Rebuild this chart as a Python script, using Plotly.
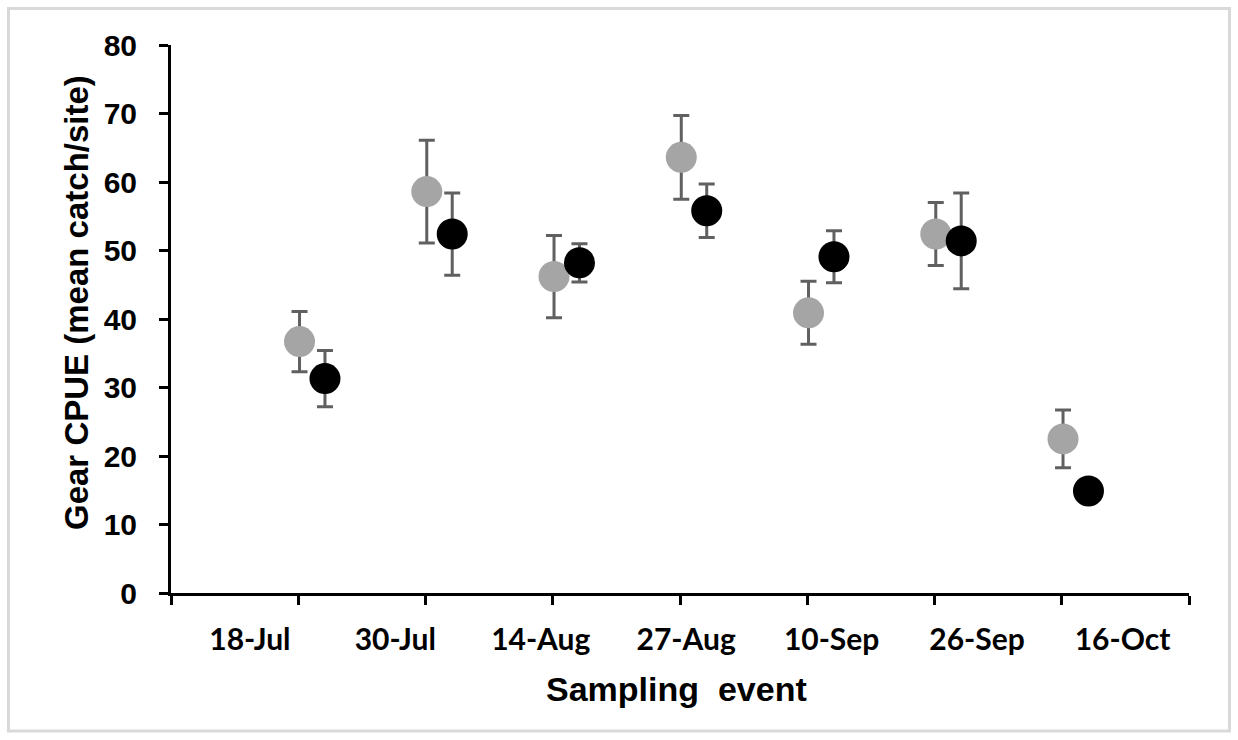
import plotly.graph_objects as go

# ---- data ----
events = ["18-Jul", "30-Jul", "14-Aug", "27-Aug", "10-Sep", "26-Sep", "16-Oct"]
gray_mean = [36.7, 58.6, 46.2, 63.6, 40.9, 52.4, 22.5]
gray_err = [4.4, 7.5, 6.0, 6.1, 4.6, 4.6, 4.2]
black_mean = [31.3, 52.4, 48.2, 55.8, 49.1, 51.4, 14.9]
black_err = [4.1, 6.0, 2.8, 3.9, 3.8, 7.0, 0.0]
y_ticks = [0, 10, 20, 30, 40, 50, 60, 70, 80]

# ---- layout geometry (pixels) ----
W, H = 1238, 740
L, R, T, B = 171, 49, 45, 147
pw, ph = W - L - R, H - T - B

def px_to_paper_x(px):
    return (px - L) / pw

def px_to_paper_y(py):
    return (H - B - py) / ph

n = len(events)
x_gray = [i + 1.01 for i in range(n)]
x_black = [i + 1.21 for i in range(n)]
label_pos = [0.62 + i * 8 / 7 for i in range(n)]

err_color = "#606060"

fig = go.Figure()
fig.add_trace(go.Scatter(
    x=x_gray, y=gray_mean, mode="markers",
    marker=dict(size=31, color="#a5a5a5", line=dict(width=0)),
    error_y=dict(type="data", array=gray_err, visible=True,
                 color=err_color, thickness=3, width=8),
    showlegend=False,
))
fig.add_trace(go.Scatter(
    x=x_black, y=black_mean, mode="markers",
    marker=dict(size=31, color="#000000", line=dict(width=0)),
    error_y=dict(type="data", array=black_err, visible=True,
                 color=err_color, thickness=3, width=8),
    showlegend=False,
))

fig.update_layout(
    width=W, height=H,
    margin=dict(l=L, r=R, t=T, b=B, pad=0),
    paper_bgcolor="white", plot_bgcolor="white",
    xaxis=dict(
        range=[0, 8], showgrid=False, zeroline=False,
        showline=True, linecolor="black", linewidth=3,
        tickmode="array", tickvals=label_pos, ticktext=events,
        ticks="", ticklabelstandoff=18,
        tickfont=dict(family="Lato", size=30, color="black", weight="bold"),
        minor=dict(tickmode="linear", tick0=0, dtick=1, ticks="outside",
                   ticklen=9, tickwidth=3, tickcolor="black", showgrid=False),
    ),
    yaxis=dict(
        range=[0, 80], showgrid=False, zeroline=False,
        showline=True, linecolor="black", linewidth=3,
        tickmode="array", tickvals=y_ticks,
        ticks="outside", ticklen=9, tickwidth=3, tickcolor="black",
        ticklabelstandoff=16,
        tickfont=dict(family="Liberation Sans", size=30, color="black", weight="bold"),
    ),
    annotations=[
        dict(text="Gear CPUE (mean catch/site)", xref="paper", yref="paper",
             x=px_to_paper_x(76), y=px_to_paper_y(303), textangle=-90,
             xanchor="center", yanchor="middle", showarrow=False,
             font=dict(family="Liberation Sans", size=33, color="black", weight="bold")),
        dict(text="Sampling&nbsp;&nbsp;event", xref="paper", yref="paper",
             x=px_to_paper_x(676), y=px_to_paper_y(689),
             xanchor="center", yanchor="middle", showarrow=False,
             font=dict(family="Liberation Sans", size=34, color="black", weight="bold")),
    ],
    shapes=[
        dict(type="rect", xref="paper", yref="paper",
             x0=px_to_paper_x(8.5), x1=px_to_paper_x(1229.5),
             y0=px_to_paper_y(731), y1=px_to_paper_y(8.5),
             line=dict(color="#d9d9d9", width=3), fillcolor="rgba(0,0,0,0)",
             layer="below"),
    ],
)

fig.write_html("out.html")
